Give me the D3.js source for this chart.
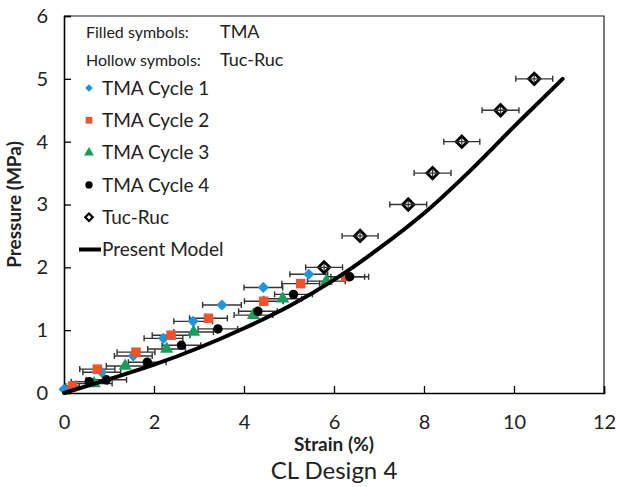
<!DOCTYPE html>
<html>
<head>
<meta charset="utf-8">
<script src="https://cdn.jsdelivr.net/npm/d3@7"></script>
<style>
  body { margin: 0; background: #fff; }
  text { font-family: Lato, "Open Sans", sans-serif; }
</style>
</head>
<body>
<div id="chart"></div>
<script>
// values
const tma1X = [0, 0.84, 1.54, 2.21, 2.87, 3.51, 4.43, 5.44];
const tma1Y = [0.06, 0.33, 0.59, 0.87, 1.14, 1.40, 1.68, 1.89];
const tma1E = [0, 0.42, 0.42, 0.43, 0.43, 0.43, 0.43, 0.42];

const tma2X = [0.19, 0.74, 1.60, 2.38, 3.21, 4.44, 5.26, 6.26];
const tma2Y = [0.11, 0.38, 0.65, 0.92, 1.19, 1.46, 1.74, 1.85];
const tma2E = [0.15, 0.39, 0.42, 0.42, 0.42, 0.43, 0.42, 0.42];

const tma3X = [0.67, 1.36, 2.28, 2.88, 4.21, 4.86, 5.83];
const tma3Y = [0.15, 0.43, 0.70, 0.97, 1.24, 1.50, 1.78];
const tma3E = [0.40, 0.42, 0.42, 0.44, 0.43, 0.42, 0.42];

const tma4X = [0.56, 0.94, 1.85, 2.61, 3.42, 4.31, 5.10, 6.35];
const tma4Y = [0.18, 0.21, 0.49, 0.76, 1.02, 1.30, 1.57, 1.85];
const tma4E = [0.40, 0.45, 0.42, 0.43, 0.44, 0.43, 0.42, 0.42];

const tucX = [5.78, 6.58, 7.65, 8.19, 8.84, 9.70, 10.45];
const tucY = [2.0, 2.5, 3.0, 3.5, 4.0, 4.5, 5.0];
const tucE = [0.41, 0.40, 0.41, 0.41, 0.40, 0.41, 0.41];

const modelX = [0, 1, 2, 3, 4, 5, 6, 7, 8, 9, 10, 10.6, 11.08];
const modelY = [0, 0.22, 0.45, 0.72, 1.03, 1.38, 1.80, 2.30, 2.86, 3.52, 4.24, 4.66, 5.0];

const xTicks = [0, 2, 4, 6, 8, 10, 12];
const yTicks = [0, 1, 2, 3, 4, 5, 6];

// set the dimensions of the canvas
let margin = {top: 16, right: 13, bottom: 94, left: 64},
    W = 617, H = 487,
    width = W - margin.left - margin.right,
    height = H - margin.top - margin.bottom;

let x = d3.scaleLinear().domain([0, 12]).range([0, width]);
let y = d3.scaleLinear().domain([0, 6]).range([height, 0]);

let svg = d3.select("#chart").append("svg")
    .attr("width", W)
    .attr("height", H);
let g = svg.append("g")
    .attr("transform", "translate(" + margin.left + "," + margin.top + ")");

function zip(xs, ys, es){
    return xs.map(function(v, i){ return {x: v, y: ys[i], e: es ? es[i] : 0}; });
}

const series = [
    {name: "TMA Cycle 1", data: zip(tma1X, tma1Y, tma1E), shape: "diamond", color: "#1e96dc"},
    {name: "TMA Cycle 2", data: zip(tma2X, tma2Y, tma2E), shape: "square", color: "#f0522a"},
    {name: "TMA Cycle 3", data: zip(tma3X, tma3Y, tma3E), shape: "triangle", color: "#14a05a"},
    {name: "TMA Cycle 4", data: zip(tma4X, tma4Y, tma4E), shape: "circle", color: "#000"}
];
const tuc = zip(tucX, tucY, tucE);

// frame (top + right)
g.append("path")
    .attr("d", "M0,0H" + width + "V" + height)
    .attr("fill", "none").attr("stroke", "#222").attr("stroke-width", 1.2);

// axes
let xAxis = g.append("g")
    .attr("transform", "translate(0," + height + ")")
    .call(d3.axisBottom(x).tickValues(xTicks).tickSize(-7).tickPadding(22));
let yAxis = g.append("g")
    .call(d3.axisLeft(y).tickValues(yTicks).tickFormat(d3.format("d")).tickSize(-7).tickPadding(16));
[xAxis, yAxis].forEach(function(a){
    a.select(".domain").attr("stroke", "#000").attr("stroke-width", 1.6);
    a.selectAll(".tick line").attr("stroke", "#000").attr("stroke-width", 1.3);
    a.selectAll(".tick text").attr("font-size", 20).attr("fill", "#222")
        .style("font-family", "Lato, sans-serif");
});

// diamonds are squares turned 45 degrees, like the spreadsheet markers
function symbolPath(shape, s){
    let t = {diamond: d3.symbolSquare, square: d3.symbolSquare,
             triangle: d3.symbolTriangle, circle: d3.symbolCircle}[shape];
    return d3.symbol().type(t).size(s)();
}
function rot(shape){ return shape === "diamond" ? " rotate(45)" : ""; }
const sizes = {diamond: 62, square: 90, triangle: 75, circle: 70};

function errorBars(sel, data, color){
    let eb = sel.selectAll(null).data(data.filter(function(d){ return d.e > 0; }))
        .enter().append("g").attr("stroke", color).attr("stroke-width", 1.4);
    eb.append("line")
        .attr("x1", function(d){ return x(d.x - d.e); })
        .attr("x2", function(d){ return x(d.x + d.e); })
        .attr("y1", function(d){ return y(d.y); })
        .attr("y2", function(d){ return y(d.y); });
    eb.append("line")
        .attr("x1", function(d){ return x(d.x - d.e); })
        .attr("x2", function(d){ return x(d.x - d.e); })
        .attr("y1", function(d){ return y(d.y) - 3; })
        .attr("y2", function(d){ return y(d.y) + 3; });
    eb.append("line")
        .attr("x1", function(d){ return x(d.x + d.e); })
        .attr("x2", function(d){ return x(d.x + d.e); })
        .attr("y1", function(d){ return y(d.y) - 3; })
        .attr("y2", function(d){ return y(d.y) + 3; });
}

let plot = g.append("g");

// error bars then filled markers
series.forEach(function(s){
    errorBars(plot, s.data, "#333");
});
series.forEach(function(s){
    plot.selectAll(null).data(s.data).enter().append("path")
        .attr("d", symbolPath(s.shape, sizes[s.shape]))
        .attr("transform", function(d){ return "translate(" + x(d.x) + "," + y(d.y) + ")" + rot(s.shape); })
        .attr("fill", s.color);
});

// present model line
let line = d3.line()
    .x(function(d){ return x(d.x); })
    .y(function(d){ return y(d.y); })
    .curve(d3.curveCatmullRom.alpha(0.5));
plot.append("path")
    .datum(zip(modelX, modelY))
    .attr("d", line)
    .attr("fill", "none")
    .attr("stroke", "#000")
    .attr("stroke-width", 4)
    .attr("stroke-linecap", "round");

// Tuc-Ruc hollow diamonds with bars drawn over
plot.selectAll(null).data(tuc).enter().append("path")
    .attr("d", symbolPath("diamond", 64))
    .attr("transform", function(d){ return "translate(" + x(d.x) + "," + y(d.y) + ") rotate(45)"; })
    .attr("fill", "#fff").attr("stroke", "#000").attr("stroke-width", 2.8);
errorBars(plot, tuc, "#333");
plot.selectAll(null).data(tuc).enter().append("line")
    .attr("x1", function(d){ return x(d.x); })
    .attr("x2", function(d){ return x(d.x); })
    .attr("y1", function(d){ return y(d.y) - 4; })
    .attr("y2", function(d){ return y(d.y) + 4; })
    .attr("stroke", "#333").attr("stroke-width", 1.2);

// legend
let lg = svg.append("g");
lg.append("text").attr("x", 86).attr("y", 38).attr("font-size", 16).attr("fill", "#222").text("Filled symbols:");
lg.append("text").attr("x", 220).attr("y", 38).attr("font-size", 18).attr("fill", "#222").text("TMA");
lg.append("text").attr("x", 86).attr("y", 66).attr("font-size", 16).attr("fill", "#222").text("Hollow symbols:");
lg.append("text").attr("x", 220).attr("y", 66).attr("font-size", 18).attr("fill", "#222").text("Tuc-Ruc");

const legendRows = series.map(function(s){ return {name: s.name, shape: s.shape, color: s.color, hollow: false}; })
    .concat([{name: "Tuc-Ruc", shape: "diamond", color: "#000", hollow: true},
             {name: "Present Model", shape: "line", color: "#000"}]);
const legendSizes = {diamond: 30, square: 45, triangle: 42, circle: 42};
legendRows.forEach(function(r, i){
    let cy = 88 + i * 32.3;
    if (r.shape === "line") {
        lg.append("line").attr("x1", 79).attr("x2", 101).attr("y1", cy).attr("y2", cy)
            .attr("stroke", "#000").attr("stroke-width", 4);
    } else {
        lg.append("path").attr("d", symbolPath(r.shape, r.hollow ? 28 : legendSizes[r.shape]))
            .attr("transform", "translate(89," + cy + ")" + rot(r.shape))
            .attr("fill", r.hollow ? "#fff" : r.color)
            .attr("stroke", r.hollow ? "#000" : "none")
            .attr("stroke-width", 2.2);
    }
    lg.append("text").attr("x", 102).attr("y", cy).attr("dy", "0.36em")
        .attr("font-size", 19).attr("fill", "#222").text(r.name);
});

// axis titles
svg.append("text")
    .attr("x", margin.left + width / 2).attr("y", 451)
    .attr("text-anchor", "middle").attr("font-size", 19).attr("font-weight", "bold")
    .attr("fill", "#222").text("Strain (%)");
svg.append("text")
    .attr("transform", "translate(21," + (margin.top + height / 2) + ") rotate(-90)")
    .attr("text-anchor", "middle").attr("font-size", 19).attr("font-weight", "bold")
    .attr("fill", "#222").text("Pressure (MPa)");
svg.append("text")
    .attr("x", margin.left + width / 2).attr("y", 479)
    .attr("text-anchor", "middle").attr("font-size", 24)
    .attr("fill", "#222").text("CL Design 4");
</script>
</body>
</html>
